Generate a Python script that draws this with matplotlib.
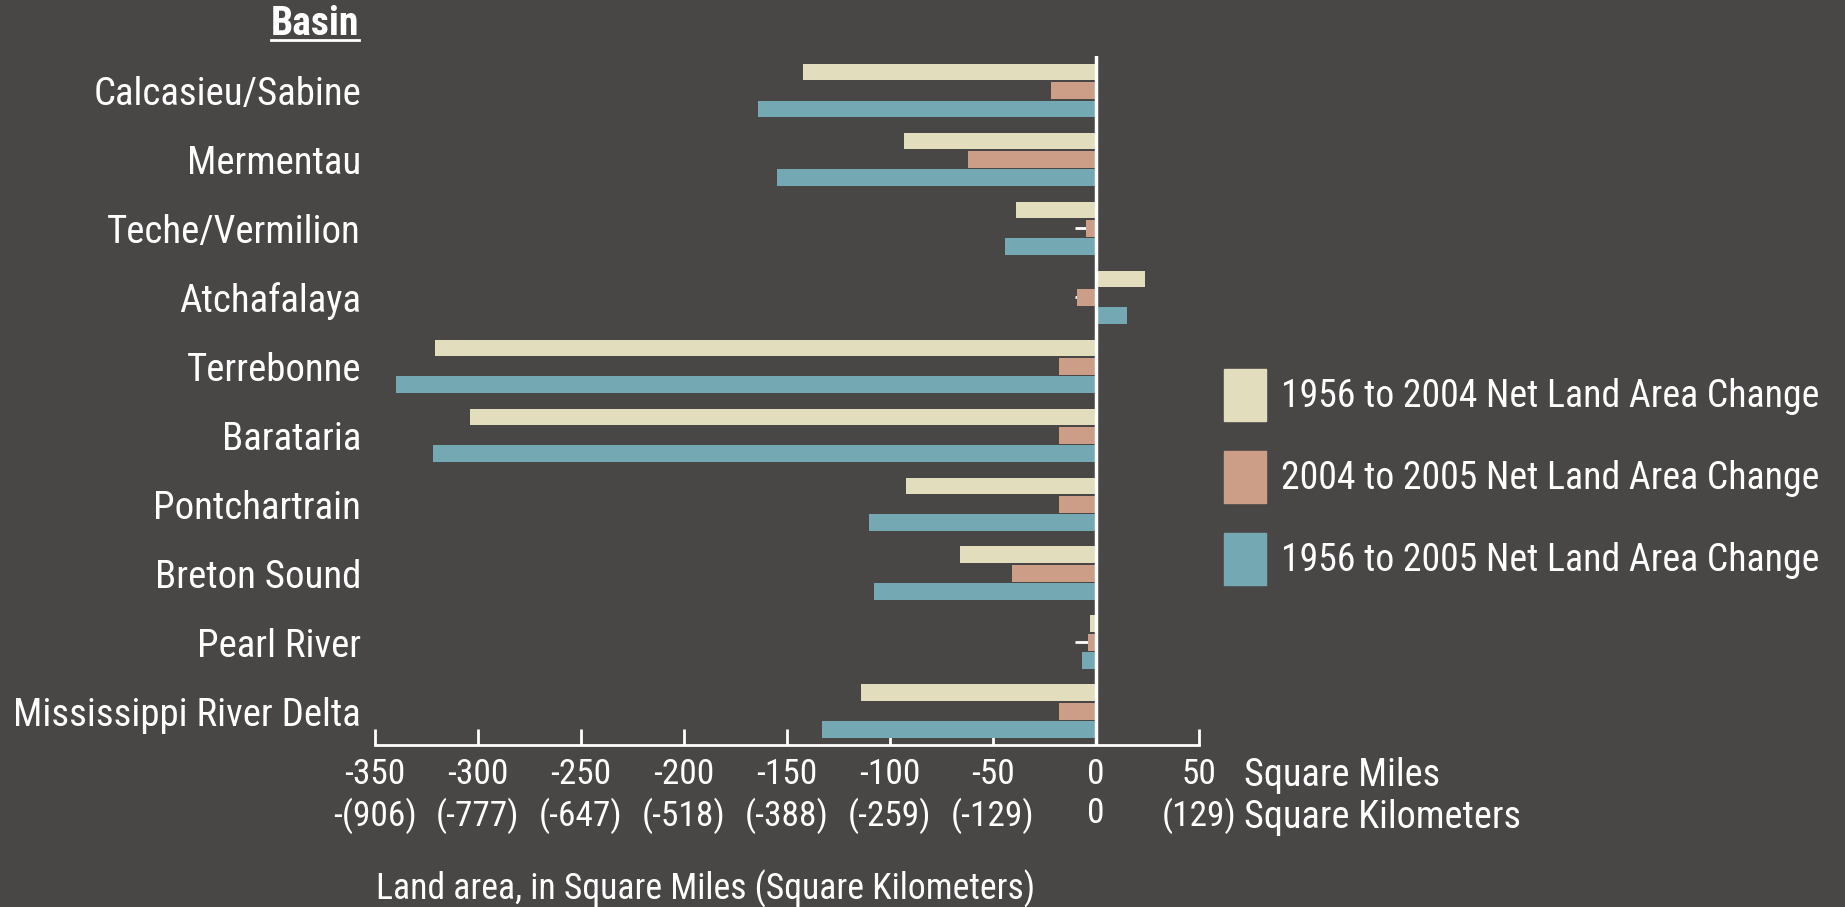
import matplotlib
matplotlib.use('Agg')
import matplotlib.pyplot as plt
from matplotlib import font_manager
from matplotlib.patches import Patch
from matplotlib.lines import Line2D

bg_color = '#494746'
beige = '#E2DEBD'
pink = '#CC9E87'
blue = '#74A9B3'

basins = ['Calcasieu/Sabine', 'Mermentau', 'Teche/Vermilion', 'Atchafalaya',
          'Terrebonne', 'Barataria', 'Pontchartrain', 'Breton Sound',
          'Pearl River', 'Mississippi River Delta']

# net land area change, square miles
change_1956_2004 = [-142, -93, -39, 24, -321, -304, -92, -66, -3, -114]
change_2004_2005 = [-22, -62, -5, -9, -18, -18, -18, -41, -4, -18]
change_1956_2005 = [-164, -155, -44, 15, -340, -322, -110, -108, -7, -133]
# small leader / error ticks on the 2004-2005 bars
err_2004_2005 = [0, 0, 5, 1, 0, 0, 0, 0, 6, 0]

sqmi_ticks = [-350, -300, -250, -200, -150, -100, -50, 0, 50]
sqkm_labels = ['-(906)', '(-777)', '(-647)', '(-518)', '(-388)', '(-259)',
               '(-129)', '0', '(129)']

legend_labels = ['1956 to 2004 Net Land Area Change',
                 '2004 to 2005 Net Land Area Change',
                 '1956 to 2005 Net Land Area Change']

available = {f.name for f in font_manager.fontManager.ttflist}
for fam in ['Liberation Sans Narrow', 'DejaVu Sans Condensed', 'Roboto Condensed', 'Liberation Sans']:
    if fam in available:
        plt.rcParams['font.family'] = fam
        break


def main():
    fig = plt.figure(figsize=(18.45, 9.07), dpi=100, facecolor=bg_color)
    ax = fig.add_axes([375/1845, 1-745/907, (1199-375)/1845, (745-56)/907])
    ax.set_facecolor(bg_color)

    ypos = list(range(len(basins)))
    off = 0.268
    h = 0.246
    ax.barh([y - off for y in ypos], change_1956_2004, height=h, color=beige, zorder=2)
    ax.barh(ypos, change_2004_2005, height=h, color=pink, zorder=2)
    ax.barh([y + off for y in ypos], change_1956_2005, height=h, color=blue, zorder=2)

    idx = [i for i, e in enumerate(err_2004_2005) if e]
    ax.errorbar([change_2004_2005[i] for i in idx], idx,
                xerr=[[err_2004_2005[i] for i in idx], [0]*len(idx)],
                fmt='none', ecolor='white', elinewidth=2, capsize=0, zorder=1)

    ax.axvline(0, color='white', lw=2.5, zorder=3)

    ax.set_xlim(-350, 50)
    ax.set_ylim(len(basins) - 0.514, -0.5)

    for s in ['left', 'top', 'right']:
        ax.spines[s].set_visible(False)
    ax.spines['bottom'].set_color('white')
    ax.spines['bottom'].set_linewidth(2)

    ax.set_xticks(sqmi_ticks)
    ax.set_xticklabels([f'{a}\n{b}' for a, b in zip(sqmi_ticks, sqkm_labels)],
                       linespacing=1.22)
    ax.tick_params(axis='x', direction='in', length=11.5, width=2, color='white',
                   labelcolor='white', labelsize=25.5, pad=9.5)

    ax.set_yticks(ypos)
    ax.set_yticklabels(basins)
    ax.tick_params(axis='y', length=0, labelcolor='white', labelsize=28, pad=10)

    fig.text(1244/1845, 1-776/907, 'Square Miles', color='white', fontsize=27.5,
             va='center', ha='left')
    fig.text(1244/1845, 1-818/907, 'Square Kilometers', color='white', fontsize=27.5,
             va='center', ha='left')
    fig.text(376/1845, 1-889/907, 'Land area, in Square Miles (Square Kilometers)',
             color='white', fontsize=25.7, va='center', ha='left')

    basin_txt = fig.text(359/1845, 1-35/907, 'Basin', color='white', fontsize=28.5,
                         fontweight='bold', va='baseline', ha='right')
    fig.canvas.draw()
    bb = basin_txt.get_window_extent()
    yline = 1 - 39.5/907
    fig.add_artist(Line2D([bb.x0/fig.bbox.width, bb.x1/fig.bbox.width], [yline, yline],
                          color='white', lw=2))

    handles = [Patch(color=c) for c in (beige, pink, blue)]
    fig.legend(handles, legend_labels, loc='center left',
               bbox_to_anchor=(1224/1845, 1-477/907), frameon=False,
               fontsize=27.2, labelcolor='white', handlelength=1.11, handleheight=1.74,
               labelspacing=0.79, handletextpad=0.4, borderpad=0, borderaxespad=0)

    fig.savefig('out.png', dpi=100, facecolor=bg_color)


if __name__ == '__main__':
    main()
